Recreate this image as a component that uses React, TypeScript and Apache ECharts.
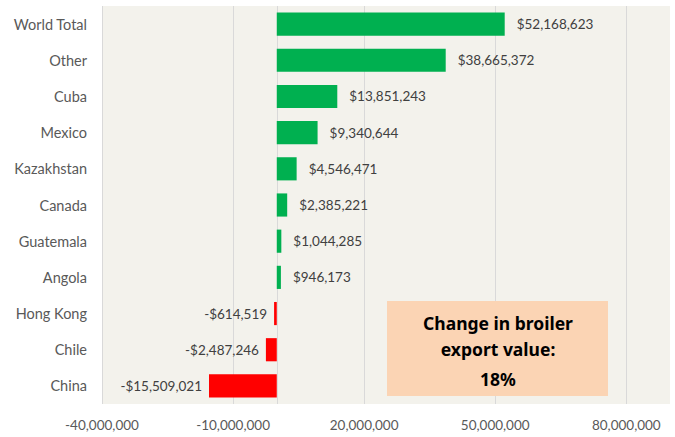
import React, { useEffect, useRef } from "react";
import * as echarts from "echarts";

const categories = [
  "World Total",
  "Other",
  "Cuba",
  "Mexico",
  "Kazakhstan",
  "Canada",
  "Guatemala",
  "Angola",
  "Hong Kong",
  "Chile",
  "China",
];
const values = [
  52168623, 38665372, 13851243, 9340644, 4546471, 2385221, 1044285, 946173,
  -614519, -2487246, -15509021,
];
const tickLabels = [-40000000, -10000000, 20000000, 50000000, 80000000];
const gridValues = [-40000000, -10000000, 0, 20000000, 50000000, 80000000];
const boxLines = ["Change in broiler", "export value:", "18%"];

const FONT = "Lato, 'Noto Sans', sans-serif";
const BOX_FONT = "'Noto Sans', sans-serif";

function fmtMoney(v: number): string {
  return (v < 0 ? "-" : "") + "$" + Math.abs(v).toLocaleString("en-US");
}

export default function App() {
  const ref = useRef<HTMLDivElement>(null);
  useEffect(() => {
    if (!ref.current) return;
    const chart = echarts.init(ref.current, null, { renderer: "svg" });
    const data = values.map((v) => ({
      value: v,
      itemStyle: { color: v >= 0 ? "#00B050" : "#FF0000" },
      label: { position: v >= 0 ? "right" : "left", distance: v >= 0 ? 12 : 7 },
    }));
    chart.setOption({
      animation: false,
      backgroundColor: "#FFFFFF",
      textStyle: { fontFamily: FONT },
      grid: {
        left: 102,
        right: 5,
        top: 6,
        bottom: 33,
        show: true,
        backgroundColor: "#F3F2EC",
        borderWidth: 0,
      },
      xAxis: {
        type: "value",
        min: -40000000,
        max: 90000000,
        axisLine: { show: false },
        axisTick: { show: false, customValues: gridValues },
        splitLine: { show: true, lineStyle: { color: "#D9D9D9", width: 1 } },
        axisLabel: {
          customValues: tickLabels,
          color: "#595959",
          fontSize: 13.5,
          fontFamily: FONT,
          margin: 14,
          formatter: (v: number) => v.toLocaleString("en-US"),
        },
      },
      yAxis: {
        type: "category",
        data: categories,
        inverse: true,
        axisLine: { show: false, onZero: false },
        axisTick: { show: false },
        axisLabel: {
          color: "#595959",
          fontSize: 14.5,
          fontFamily: FONT,
          margin: 15,
        },
      },
      series: [
        {
          type: "bar",
          data,
          barCategoryGap: "36%",
          label: {
            show: true,
            color: "#404040",
            fontSize: 13.5,
            fontFamily: FONT,
            formatter: (p: any) => fmtMoney(p.value),
          },
        },
      ],
      graphic: [
        {
          type: "group",
          left: 387,
          top: 301,
          z: 100,
          children: [
            {
              type: "rect",
              z: 100,
              shape: { x: 0, y: 0, width: 221, height: 95 },
              style: { fill: "#FBD4B4" },
            },
            ...boxLines.map((t, i) => ({
              type: "text",
              z: 101,
              x: 111,
              y: [22, 48, 78][i],
              style: {
                text: t,
                fill: "#000000",
                font: `bold 17.5px ${BOX_FONT}`,
                textAlign: "center",
                textVerticalAlign: "middle",
              },
            })),
          ],
        },
      ],
    });
    return () => chart.dispose();
  }, []);
  return (
    <div
      ref={ref}
      style={{ position: "fixed", left: 0, top: 0, width: 675, height: 437 }}
    />
  );
}
